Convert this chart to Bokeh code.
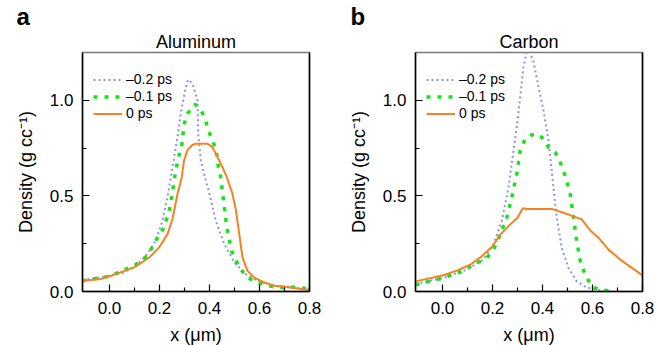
from bokeh.plotting import figure
from bokeh.layouts import row
from bokeh.models import (Range1d, FixedTicker, Legend, LegendItem, LinearAxis,
                          Title, ColumnDataSource)
from bokeh.embed import file_html
from bokeh.resources import INLINE

FONT = "Liberation Sans"

# ---------------- data ----------------
al_x_m02 = [-0.108, 0.0, 0.06, 0.112, 0.152, 0.185, 0.212, 0.232, 0.252, 0.270, 0.285, 0.301,
            0.314, 0.332, 0.352, 0.355, 0.365, 0.378, 0.398, 0.425, 0.459, 0.499, 0.545,
            0.592, 0.659, 0.73, 0.8]
al_y_m02 = [0.059, 0.082, 0.100, 0.143, 0.196, 0.266, 0.371, 0.493, 0.650, 0.790, 0.930, 1.044,
            1.108, 1.088, 1.000, 0.825, 0.685, 0.616, 0.520, 0.370, 0.248, 0.152, 0.091,
            0.056, 0.030, 0.020, 0.012]

al_x_m01 = [-0.108, 0.0, 0.099, 0.152, 0.185, 0.219, 0.240, 0.252, 0.261, 0.269, 0.278, 0.289,
            0.294, 0.298, 0.312, 0.342, 0.369, 0.385, 0.398, 0.411, 0.425, 0.432, 0.436,
            0.443, 0.456, 0.469, 0.488, 0.519, 0.552, 0.592, 0.645, 0.699, 0.745, 0.8]
al_y_m01 = [0.056, 0.080, 0.135, 0.187, 0.266, 0.336, 0.430, 0.520, 0.601, 0.659, 0.712, 0.764,
            0.822, 0.874, 0.930, 0.979, 0.942, 0.891, 0.834, 0.790, 0.747, 0.694, 0.642,
            0.615, 0.476, 0.336, 0.213, 0.126, 0.073, 0.047, 0.028, 0.021, 0.024, 0.012]

al_x_0 = [-0.108, -0.035, 0.005, 0.099, 0.159, 0.199, 0.232, 0.252, 0.272, 0.289, 0.298, 0.312,
          0.330, 0.345, 0.392, 0.412, 0.432, 0.452, 0.469, 0.490, 0.505, 0.519, 0.532, 0.552,
          0.579, 0.619, 0.659, 0.712, 0.8]
al_y_0 = [0.056, 0.065, 0.082, 0.126, 0.178, 0.231, 0.300, 0.379, 0.510, 0.598, 0.685, 0.740,
          0.765, 0.773, 0.773, 0.755, 0.703, 0.650, 0.598, 0.520, 0.432, 0.300, 0.178, 0.108,
          0.073, 0.047, 0.030, 0.024, 0.007]

c_x_m02 = [-0.108, 0.0, 0.097, 0.164, 0.204, 0.237, 0.264, 0.284, 0.297, 0.311, 0.324, 0.336,
           0.348, 0.364, 0.384, 0.404, 0.424, 0.444, 0.457, 0.477, 0.504, 0.537, 0.577, 0.631,
           0.68]
c_y_m02 = [0.039, 0.070, 0.114, 0.167, 0.246, 0.368, 0.544, 0.737, 0.860, 1.018, 1.175, 1.255,
           1.255, 1.202, 1.070, 0.947, 0.789, 0.544, 0.386, 0.228, 0.123, 0.053, 0.021, 0.007,
           0.0]

c_x_m01 = [-0.108, 0.0, 0.071, 0.137, 0.177, 0.204, 0.231, 0.257, 0.277, 0.297, 0.311, 0.331,
           0.351, 0.375, 0.397, 0.424, 0.451, 0.471, 0.491, 0.511, 0.524, 0.537, 0.551, 0.571,
           0.597, 0.631, 0.684]
c_y_m01 = [0.035, 0.070, 0.102, 0.149, 0.175, 0.219, 0.298, 0.386, 0.491, 0.614, 0.737, 0.798,
           0.816, 0.825, 0.807, 0.754, 0.728, 0.675, 0.605, 0.509, 0.386, 0.263, 0.158, 0.088,
           0.026, 0.009, 0.0]

c_x_0 = [-0.108, 0.0, 0.057, 0.111, 0.157, 0.200, 0.231, 0.271, 0.300, 0.321, 0.337, 0.437,
         0.484, 0.557, 0.591, 0.624, 0.664, 0.711, 0.8]
c_y_0 = [0.053, 0.084, 0.109, 0.140, 0.184, 0.237, 0.298, 0.351, 0.386, 0.435, 0.432, 0.432,
         0.412, 0.377, 0.319, 0.281, 0.219, 0.167, 0.084]

labels = ["\u20130.2 ps", "\u20130.1 ps", "0 ps"]
x_ticks = [0.0, 0.2, 0.4, 0.6, 0.8]
x_minor = [0.1, 0.3, 0.5, 0.7]
y_ticks = [0.0, 0.5, 1.0]
y_minor = [0.25, 0.75]

styles = [
    dict(line_color="#8f8ff2", line_width=2, line_dash="2 3"),
    dict(line_color="#14e614", line_width=3.5, line_dash="4 7"),
    dict(line_color="#f68221", line_width=2),
]


def make(title, letter, series, bl, br):
    p = figure(frame_width=227, frame_height=239, min_border_left=bl, min_border_right=br,
               min_border_top=52, min_border_bottom=54,
               x_range=Range1d(-0.108, 0.8), y_range=Range1d(0, 1.25),
               output_backend="svg", toolbar_location=None)
    p.background_fill_color = "white"
    p.border_fill_color = "white"
    p.xgrid.visible = False
    p.ygrid.visible = False
    p.outline_line_color = "#7a7a7a"
    p.outline_line_width = 1.5

    renderers = []
    for (xs, ys), st in zip(series, styles):
        src = ColumnDataSource(dict(x=xs, y=ys))
        renderers.append(p.line("x", "y", source=src, **st))

    for ax in (p.xaxis[0], p.yaxis[0]):
        ax.axis_line_color = "black"
        ax.axis_line_width = 1.5
        ax.major_tick_in = 7
        ax.major_tick_out = 0
        ax.minor_tick_in = 4
        ax.minor_tick_out = 0
        ax.major_tick_line_color = "black"
        ax.major_tick_line_width = 1.2
        ax.minor_tick_line_color = "black"
        ax.minor_tick_line_width = 1.2
        ax.major_label_text_font = FONT
        ax.major_label_text_font_size = "17px"
        ax.major_label_text_color = "black"
        ax.axis_label_text_font = FONT
        ax.axis_label_text_font_size = "18px"
        ax.axis_label_text_font_style = "normal"
        ax.axis_label_text_color = "black"
    p.xaxis[0].ticker = FixedTicker(ticks=x_ticks, minor_ticks=x_minor)
    p.yaxis[0].ticker = FixedTicker(ticks=y_ticks, minor_ticks=y_minor)
    p.xaxis[0].major_label_overrides = {t: f"{t:.1f}" for t in x_ticks}
    p.yaxis[0].major_label_overrides = {t: f"{t:.1f}" for t in y_ticks}
    p.xaxis[0].major_label_standoff = 10
    p.xaxis[0].axis_label = "x (\u03bcm)"
    p.xaxis[0].axis_label_standoff = 8
    p.yaxis[0].major_label_standoff = 9
    p.yaxis[0].axis_label = "Density (g cc\u207b\u00b9)"
    p.yaxis[0].axis_label_standoff = 11

    right = LinearAxis(ticker=FixedTicker(ticks=[]), axis_line_color="black",
                       axis_line_width=1.5, major_tick_in=0, major_tick_out=0,
                       minor_tick_in=0, minor_tick_out=0,
                       major_label_text_font_size="0px")
    p.add_layout(right, "right")

    p.add_layout(Title(text=title, align="center", text_font=FONT, text_font_size="18px",
                       text_font_style="normal", text_color="black", standoff=1), "above")
    p.add_layout(Title(text=letter, align="left", offset=-66 if letter == "a" else -65,
                       text_font=FONT, text_font_size="24px", text_font_style="bold",
                       text_color="black", standoff=0), "above")

    legend = Legend(items=[LegendItem(label=l, renderers=[r]) for l, r in zip(labels, renderers)],
                    location=(11, 170), glyph_width=29, glyph_height=15, label_height=15,
                    spacing=1, padding=0, margin=0, label_standoff=4,
                    label_text_font=FONT, label_text_font_size="14px",
                    label_text_color="black", border_line_color=None,
                    background_fill_alpha=0)
    p.add_layout(legend)
    return p


p1 = make("Aluminum", "a", [(al_x_m02, al_y_m02), (al_x_m01, al_y_m01), (al_x_0, al_y_0)], 82, 19)
p2 = make("Carbon", "b", [(c_x_m02, c_y_m02), (c_x_m01, c_y_m01), (c_x_0, c_y_0)], 87, 15)
layout = row(p1, p2)
open("out.html", "w").write(file_html(layout, INLINE))
